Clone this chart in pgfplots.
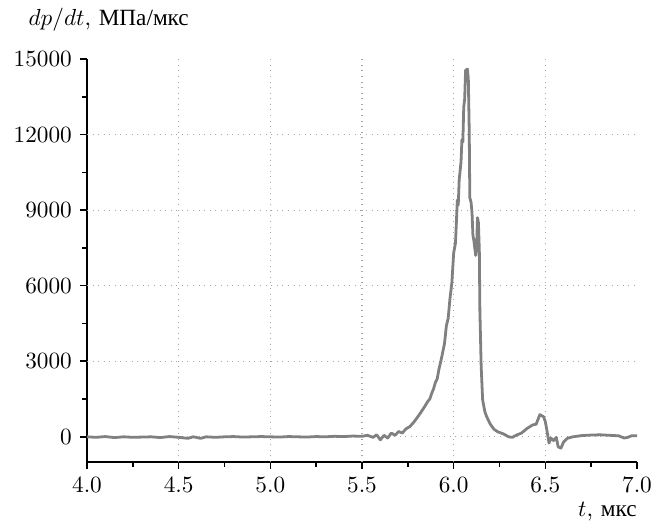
\documentclass[border=0pt]{standalone}
\usepackage{fontspec}
\newfontfamily\cyr{Liberation Serif}[Scale=1.0]
\usepackage{pgfplots}
\pgfplotsset{compat=1.18}
\begin{document}
\begin{tikzpicture}[x=0.43pt,y=0.43pt]
\path[use as bounding box] (-87,-61) rectangle (577,462);
\begin{axis}[
  at={(0,0)}, anchor=south west,
  scale only axis, width=236.5pt, height=173.3pt,
  xmin=4, xmax=7, ymin=-1000, ymax=15000,
  axis lines=left, axis line style={-, line width=0.7pt},
  xtick={4,4.5,...,7}, ytick={0,3000,...,15000},
  minor x tick num=1, minor y tick num=1,
  tick align=outside, major tick length=3pt, minor tick length=2pt,
  every tick/.style={black, line width=0.7pt},
  scaled y ticks=false,
  x tick label style={/pgf/number format/fixed, /pgf/number format/fixed zerofill, /pgf/number format/precision=1},
  y tick label style={/pgf/number format/fixed, /pgf/number format/1000 sep={}},
  extra x ticks={4.5,5,5.5,6,6.5}, extra x tick labels={},
  extra y ticks={0,3000,6000,9000,12000}, extra y tick labels={},
  extra tick style={grid=major, major grid style={gray!70, dotted, line width=0.5pt}},
  xlabel={$t$, {\cyr мкс}},
  xlabel style={at={(axis description cs:1,-0.136)}, anchor=base east, inner sep=0pt},
  ylabel={$dp/dt$, {\cyr МПа/мкс}},
  ylabel style={at={(axis description cs:-0.107,1.084)}, anchor=base west, rotate=-90, inner sep=0pt},
  clip=false,
]
\addplot[color=gray, line width=1.2pt, line join=round] coordinates {
(4.00,0) (4.05,-20) (4.10,10) (4.15,-30) (4.20,0) (4.25,-20) (4.30,-10) (4.35,0)
(4.40,-30) (4.45,10) (4.50,-20) (4.55,-60) (4.58,0) (4.62,-60) (4.65,0) (4.70,-20)
(4.75,0) (4.80,10) (4.85,-10) (4.90,0) (4.95,10) (5.00,0) (5.05,-10) (5.10,10)
(5.15,0) (5.20,-10) (5.25,10) (5.30,0) (5.35,20) (5.40,10) (5.45,30) (5.50,20)
(5.53,60) (5.56,-20) (5.58,80) (5.60,-120) (5.62,60) (5.64,-50) (5.66,150) (5.68,60)
(5.70,210) (5.72,150) (5.74,320) (5.76,400) (5.78,560) (5.80,750) (5.82,960) (5.84,1180)
(5.86,1420) (5.87,1500) (5.88,1720) (5.89,1900) (5.90,2150) (5.91,2300) (5.92,2700)
(5.93,3000) (5.94,3350) (5.95,3700) (5.96,4400) (5.97,4700) (5.98,5500) (5.99,6100)
(6.00,7300) (6.01,7700) (6.02,9400) (6.025,9200) (6.03,10200) (6.04,10900) (6.045,11800)
(6.05,11700) (6.055,13100) (6.06,13400) (6.065,14550)
(6.075,14600) (6.08,14200) (6.085,12100) (6.088,9500) (6.095,9300) (6.10,8900)
(6.105,8000) (6.11,7800) (6.12,7200) (6.125,7500) (6.13,8700) (6.135,8500) (6.14,7400)
(6.143,5000) (6.15,2800) (6.158,1470) (6.17,1000) (6.18,800) (6.20,500) (6.22,300)
(6.24,200) (6.27,120) (6.30,0) (6.32,-20) (6.34,60) (6.37,150) (6.40,330) (6.43,470)
(6.45,500) (6.47,880) (6.49,800) (6.50,600) (6.51,200) (6.52,-250) (6.53,-50)
(6.545,-150) (6.56,-20) (6.57,-400) (6.585,-450) (6.60,-200) (6.62,-60) (6.65,0)
(6.70,50) (6.75,70) (6.80,80) (6.85,60) (6.90,40) (6.93,-50) (6.95,-20) (6.97,40) (7.00,40)
};
\end{axis}
\end{tikzpicture}
\end{document}
